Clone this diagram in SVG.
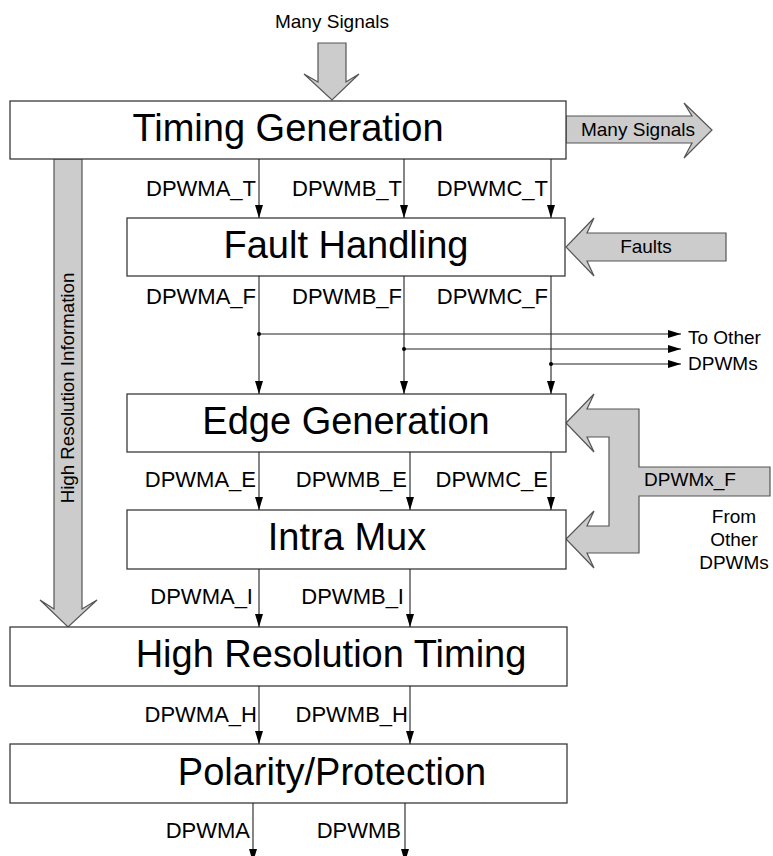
<svg xmlns="http://www.w3.org/2000/svg" width="773" height="856" viewBox="0 0 773 856">
<defs>
<style>
.box{fill:#fff;stroke:#3a3a3a;stroke-width:1.3}
.title{font-family:"Liberation Sans",Arial,sans-serif;font-size:38px;fill:#000;text-anchor:middle}
.lbl{font-family:"Liberation Sans",Arial,sans-serif;font-size:22px;fill:#000;text-anchor:end}
.sm{font-family:"Liberation Sans",Arial,sans-serif;font-size:19px;fill:#000}
.bigarrow{fill:#cccccc;stroke:#555;stroke-width:1.2;stroke-linejoin:miter}
.wire{fill:none;stroke:#222;stroke-width:1.1}
.dot{fill:#000}
</style>
<marker id="ah" markerWidth="13" markerHeight="8" refX="13" refY="4" orient="auto" markerUnits="userSpaceOnUse">
<path d="M0,0 L13,4 L0,8 Z" fill="#000"/>
</marker>
</defs>

<g id="in-many-signals">
<text class="sm" x="332" y="28" text-anchor="middle">Many Signals</text>
<polygon class="bigarrow" points="318,43 346,43 346,82 359,74 332,100 304,74 318,82"/>
</g>

<g id="out-many-signals">
<polygon class="bigarrow" points="566,116 692,116 684,103 712,130 684,158 692,143 566,143"/>
<text class="sm" x="638" y="136" text-anchor="middle">Many Signals</text>
</g>

<g id="faults">
<polygon class="bigarrow" points="726,233 587,233 594,218 566,247 594,276 587,261 726,261"/>
<text class="sm" x="646" y="253" text-anchor="middle">Faults</text>
</g>

<g id="hr-info">
<polygon class="bigarrow" points="54,159 82,159 82,609 97,600 68,627 40,600 54,609"/>
<text class="sm" transform="translate(74,388) rotate(-90)" text-anchor="middle" style="font-size:18.7px">High Resolution Information</text>
</g>

<g id="dpwmx-f">
<polygon class="bigarrow" points="566,423 594,394 587,409 639,409 639,467 770,467 770,496 639,496 639,553 587,553 594,568 566,539 594,511 587,526 609,526 609,437 587,437 594,452"/>
<text class="sm" x="690" y="486" text-anchor="middle">DPWMx_F</text>
<text class="sm" x="734" y="523" text-anchor="middle">From</text>
<text class="sm" x="734" y="546" text-anchor="middle">Other</text>
<text class="sm" x="734" y="569" text-anchor="middle">DPWMs</text>
</g>

<g id="timing-generation">
<rect class="box" x="10" y="101" width="556" height="58"/>
<text class="title" x="288" y="141">Timing Generation</text>
</g>

<g id="fault-handling">
<rect class="box" x="127" y="218" width="438" height="58"/>
<text class="title" x="346" y="258">Fault Handling</text>
</g>

<g id="edge-generation">
<rect class="box" x="127" y="394" width="439" height="58"/>
<text class="title" x="346" y="434">Edge Generation</text>
</g>

<g id="intra-mux">
<rect class="box" x="127" y="510" width="439" height="59"/>
<text class="title" x="347" y="550">Intra Mux</text>
</g>

<g id="high-resolution-timing">
<rect class="box" x="10" y="627" width="557" height="59"/>
<text class="title" x="331" y="667">High Resolution Timing</text>
</g>

<g id="polarity-protection">
<rect class="box" x="10" y="744" width="557" height="59"/>
<text class="title" x="332" y="785">Polarity/Protection</text>
</g>

<g id="connectors">
<line class="wire" x1="259" y1="159" x2="259" y2="218" marker-end="url(#ah)"/>
<line class="wire" x1="404" y1="159" x2="404" y2="218" marker-end="url(#ah)"/>
<line class="wire" x1="551" y1="159" x2="551" y2="218" marker-end="url(#ah)"/>
<text class="lbl" x="256" y="196">DPWMA_T</text>
<text class="lbl" x="402" y="196">DPWMB_T</text>
<text class="lbl" x="548" y="196">DPWMC_T</text>

<line class="wire" x1="259" y1="276" x2="259" y2="394" marker-end="url(#ah)"/>
<line class="wire" x1="404" y1="276" x2="404" y2="394" marker-end="url(#ah)"/>
<line class="wire" x1="551" y1="276" x2="551" y2="394" marker-end="url(#ah)"/>
<text class="lbl" x="256" y="304">DPWMA_F</text>
<text class="lbl" x="402" y="304">DPWMB_F</text>
<text class="lbl" x="548" y="304">DPWMC_F</text>

<line class="wire" x1="259" y1="334" x2="681" y2="334" marker-end="url(#ah)"/>
<line class="wire" x1="404" y1="349" x2="681" y2="349" marker-end="url(#ah)"/>
<line class="wire" x1="551" y1="364" x2="681" y2="364" marker-end="url(#ah)"/>
<circle class="dot" cx="259" cy="334" r="2"/>
<circle class="dot" cx="404" cy="349" r="2"/>
<circle class="dot" cx="551" cy="364" r="2"/>
<text class="sm" x="688" y="344">To Other</text>
<text class="sm" x="688" y="370">DPWMs</text>

<line class="wire" x1="259" y1="452" x2="259" y2="510" marker-end="url(#ah)"/>
<line class="wire" x1="410" y1="452" x2="410" y2="510" marker-end="url(#ah)"/>
<line class="wire" x1="551" y1="452" x2="551" y2="510" marker-end="url(#ah)"/>
<text class="lbl" x="256" y="487">DPWMA_E</text>
<text class="lbl" x="407" y="487">DPWMB_E</text>
<text class="lbl" x="548" y="487">DPWMC_E</text>

<line class="wire" x1="259" y1="569" x2="259" y2="627" marker-end="url(#ah)"/>
<line class="wire" x1="410" y1="569" x2="410" y2="627" marker-end="url(#ah)"/>
<text class="lbl" x="253" y="604">DPWMA_I</text>
<text class="lbl" x="404" y="604">DPWMB_I</text>

<line class="wire" x1="259" y1="686" x2="259" y2="744" marker-end="url(#ah)"/>
<line class="wire" x1="410" y1="686" x2="410" y2="744" marker-end="url(#ah)"/>
<text class="lbl" x="257" y="722">DPWMA_H</text>
<text class="lbl" x="408" y="722">DPWMB_H</text>

<line class="wire" x1="253" y1="803" x2="253" y2="862" marker-end="url(#ah)"/>
<line class="wire" x1="405" y1="803" x2="405" y2="862" marker-end="url(#ah)"/>
<text class="lbl" x="250" y="838">DPWMA</text>
<text class="lbl" x="401" y="838">DPWMB</text>
</g>
</svg>
